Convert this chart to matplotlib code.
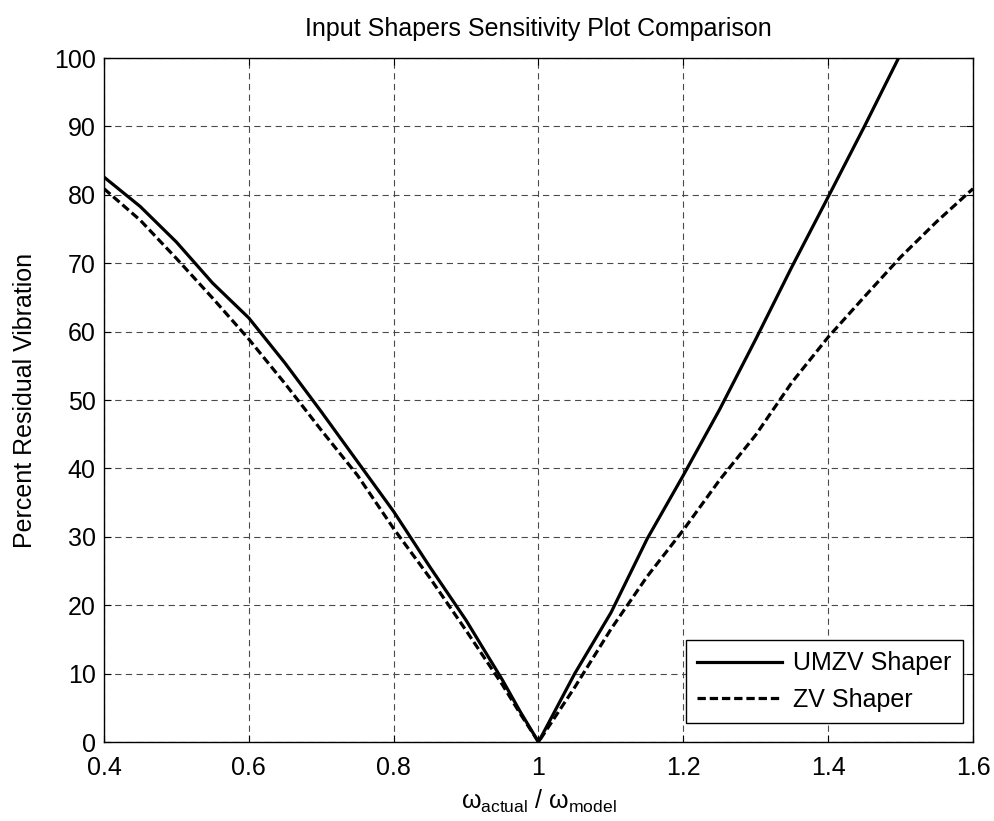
import matplotlib
matplotlib.use("Agg")
import matplotlib.pyplot as plt

plt.rcParams['font.family'] = ['Liberation Sans', 'DejaVu Sans']
plt.rcParams['mathtext.fontset'] = 'custom'
plt.rcParams['mathtext.rm'] = 'Liberation Sans'
plt.rcParams['mathtext.it'] = 'Liberation Sans'
plt.rcParams['mathtext.bf'] = 'Liberation Sans:bold'
plt.rcParams['lines.scale_dashes'] = False

# Frequency ratio samples (actual / model)
freq_ratio = [0.40, 0.45, 0.50, 0.55, 0.60, 0.65, 0.70, 0.75, 0.80, 0.85,
              0.90, 0.95, 0.975, 1.00, 1.05, 1.10, 1.15, 1.20, 1.25, 1.30,
              1.35, 1.40, 1.45, 1.50, 1.55, 1.60]

# Percent residual vibration, UMZV shaper (leaves the plot above 100 %)
umzv_freq = [0.40, 0.45, 0.50, 0.55, 0.60, 0.65, 0.70, 0.75, 0.80, 0.85,
             0.90, 0.95, 0.975, 1.00, 1.05, 1.10, 1.15, 1.20, 1.25, 1.30,
             1.35, 1.40, 1.45, 1.50]
umzv_vib = [82.6, 78.3, 73.1, 67.1, 62.0, 55.4, 48.3, 41.0, 33.7, 25.6,
            17.8, 9.1, 4.4, 0.0, 10.0, 18.9, 29.7, 39.0, 48.6, 58.9,
            69.5, 79.7, 90.0, 100.6]

# Percent residual vibration, ZV shaper
zv_vib = [80.9, 76.3, 70.7, 64.9, 58.9, 52.4, 45.6, 39.0, 31.2, 24.0,
          16.3, 8.4, 4.1, 0.0, 8.0, 16.5, 24.2, 31.0, 38.3, 44.9,
          52.6, 59.2, 65.1, 70.9, 76.1, 80.9]

x_ticks = [0.4, 0.6, 0.8, 1.0, 1.2, 1.4, 1.6]
x_tick_labels = ["0.4", "0.6", "0.8", "1", "1.2", "1.4", "1.6"]
y_ticks = list(range(0, 101, 10))

fig = plt.figure(figsize=(9.94, 8.21), dpi=100)
ax = fig.add_axes([0.1046, 0.0962, 0.8743, 0.8331])

ax.plot(umzv_freq, umzv_vib, color='black', lw=2.3, ls='-', label='UMZV Shaper',
        solid_joinstyle='round')
ax.plot(freq_ratio, zv_vib, color='black', lw=2.3, ls=(0, (6.0, 2.8)), label='ZV Shaper')

ax.set_xlim(0.4, 1.6)
ax.set_ylim(0, 100)
ax.set_xticks(x_ticks)
ax.set_xticklabels(x_tick_labels)
ax.set_yticks(y_ticks)

ax.grid(True, color='#4a4a4a', lw=0.8, ls=(0, (4.5, 3.2)))
ax.set_axisbelow(True)

ax.tick_params(direction='in', length=5, width=0.8, labelsize=18,
               top=True, right=True, colors='black')
ax.tick_params(axis='x', pad=10)
ax.tick_params(axis='y', pad=6)
for sp in ax.spines.values():
    sp.set_linewidth(1.0)
    sp.set_color('black')

ax.set_title('Input Shapers Sensitivity Plot Comparison', fontsize=18, pad=16)
ax.set_ylabel('Percent Residual Vibration', fontsize=18, labelpad=12)
ax.set_xlabel(r'$\omega_{\mathrm{actual}}$ / $\omega_{\mathrm{model}}$', fontsize=18, labelpad=6)

leg = ax.legend(loc='lower right', bbox_to_anchor=(0.9885, 0.0278), fontsize=18,
                frameon=True, fancybox=False, framealpha=1, edgecolor='black',
                handlelength=3.4, handletextpad=0.45, labelspacing=0.5,
                borderpad=0.45, borderaxespad=0)
leg.get_frame().set_linewidth(1.0)

fig.savefig('out.png', dpi=100)
